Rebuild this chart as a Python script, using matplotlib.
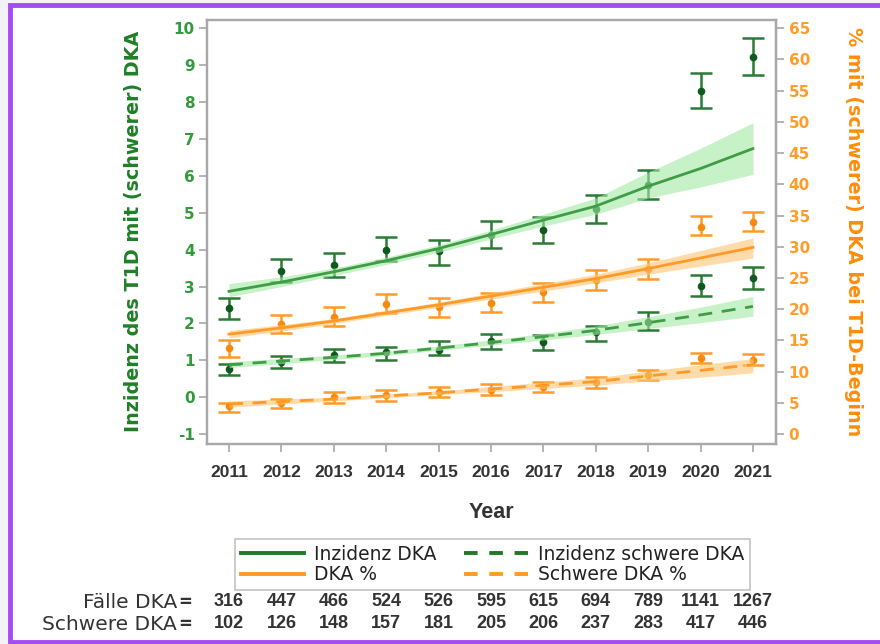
import matplotlib.pyplot as plt
from matplotlib.lines import Line2D
from matplotlib.patches import Rectangle
from matplotlib import transforms
import numpy as np

years = [2011, 2012, 2013, 2014, 2015, 2016, 2017, 2018, 2019, 2020, 2021]

# Inzidenz DKA (left axis)
inz_dka = [2.41, 3.43, 3.59, 3.98, 3.95, 4.41, 4.54, 5.11, 5.74, 8.29, 9.22]
inz_dka_lo = [2.12, 3.11, 3.26, 3.68, 3.59, 4.05, 4.18, 4.73, 5.36, 7.83, 8.73]
inz_dka_hi = [2.69, 3.75, 3.91, 4.35, 4.27, 4.77, 4.88, 5.49, 6.17, 8.78, 9.73]
inz_dka_fit = [2.87, 3.12, 3.40, 3.70, 4.03, 4.41, 4.80, 5.18, 5.72, 6.20, 6.74]
inz_dka_band_lo = [2.72, 3.00, 3.30, 3.60, 3.93, 4.29, 4.64, 4.96, 5.40, 5.70, 6.04]
inz_dka_band_hi = [3.08, 3.26, 3.50, 3.80, 4.13, 4.53, 4.96, 5.40, 6.10, 6.75, 7.44]

# Inzidenz schwere DKA (left axis)
inz_sdka = [0.76, 0.96, 1.15, 1.22, 1.29, 1.51, 1.49, 1.78, 2.05, 3.02, 3.23]
inz_sdka_lo = [0.60, 0.80, 0.94, 1.01, 1.15, 1.30, 1.29, 1.51, 1.83, 2.73, 2.94]
inz_sdka_hi = [0.89, 1.12, 1.31, 1.37, 1.51, 1.71, 1.68, 1.93, 2.30, 3.30, 3.53]
inz_sdka_fit = [0.88, 0.98, 1.08, 1.19, 1.33, 1.48, 1.64, 1.81, 2.02, 2.23, 2.46]
inz_sdka_band_lo = [0.80, 0.91, 1.02, 1.13, 1.27, 1.41, 1.55, 1.70, 1.86, 2.02, 2.19]
inz_sdka_band_hi = [0.96, 1.05, 1.14, 1.25, 1.39, 1.55, 1.73, 1.93, 2.18, 2.44, 2.73]

# DKA % (right axis)
dka_pct = [13.7, 17.7, 18.8, 20.9, 20.4, 21.0, 22.7, 24.7, 26.5, 33.2, 34.0]
dka_pct_lo = [12.4, 16.2, 17.3, 19.4, 18.7, 19.5, 21.1, 23.0, 24.9, 31.8, 32.6]
dka_pct_hi = [15.1, 19.0, 20.3, 22.5, 21.8, 22.6, 24.2, 26.2, 28.1, 35.0, 35.6]
dka_pct_fit = [16.0, 17.0, 18.1, 19.4, 20.7, 22.1, 23.5, 24.9, 26.5, 28.2, 29.9]
dka_pct_band_lo = [15.4, 16.5, 17.7, 19.0, 20.3, 21.6, 22.9, 24.2, 25.6, 26.9, 28.2]
dka_pct_band_hi = [16.6, 17.5, 18.5, 19.8, 21.1, 22.6, 24.1, 25.6, 27.4, 29.4, 31.4]

# Schwere DKA % (right axis)
sdka_pct = [4.5, 4.9, 6.0, 6.3, 6.8, 7.1, 7.6, 8.4, 9.5, 12.2, 11.9]
sdka_pct_lo = [3.6, 4.2, 5.0, 5.3, 5.9, 6.3, 6.7, 7.4, 8.6, 11.3, 11.0]
sdka_pct_hi = [5.0, 5.6, 6.8, 7.1, 7.6, 8.0, 8.4, 9.2, 10.3, 13.0, 12.8]
sdka_pct_fit = [4.8, 5.2, 5.6, 6.1, 6.6, 7.2, 7.8, 8.4, 9.3, 10.2, 11.1]
sdka_pct_band_lo = [4.3, 4.8, 5.3, 5.8, 6.3, 6.8, 7.3, 7.8, 8.5, 9.1, 9.8]
sdka_pct_band_hi = [5.3, 5.6, 5.9, 6.4, 6.9, 7.6, 8.3, 9.0, 10.1, 11.1, 12.1]

faelle_dka = [316, 447, 466, 524, 526, 595, 615, 694, 789, 1141, 1267]
schwere_dka = [102, 126, 148, 157, 181, 205, 206, 237, 283, 417, 446]

GREEN_BAR = "#2b7a35"
GREEN_PT = "#0d5a1c"
GREEN_LINE = "#3f9c47"
GREEN_BAND = "#a3e8a2"
GREEN_TXT = "#339a3c"
ORANGE = "#ff9a26"
ORANGE_PT = "#f58a10"
ORANGE_BAND = "#ffc470"
ORANGE_TXT = "#ff9c2a"
GRAY = "#a8a8a8"
NARROW = ["Liberation Sans Narrow", "Liberation Sans", "DejaVu Sans"]

fig = plt.figure(figsize=(8.8, 6.44), dpi=100)
fig.patch.set_facecolor("#f4f2f7")
# white page with purple frame
fig.patches.append(Rectangle((9.5 / 880, 2 / 644), 1.0, 637 / 644, transform=fig.transFigure,
                             facecolor="white", edgecolor="#a34cf2", linewidth=3.5, zorder=-5))

ax = fig.add_axes([207 / 880, 1 - 444 / 644, (776 - 207) / 880, (444 - 19.5) / 644])
ax2 = ax.twinx()

x = np.array(years)


def draw(a, y, lo, hi, fit, blo, bhi, barc, ptc, linec, bandc, dashed):
    y = np.array(y)
    yerr = [y - np.array(lo), np.array(hi) - y]
    a.errorbar(x, y, yerr=yerr, fmt="o", color=ptc, ecolor=barc, elinewidth=1.8,
               capsize=8, capthick=1.8, markersize=4.5, zorder=2)
    a.fill_between(x, blo, bhi, color=bandc, alpha=0.6, linewidth=0, zorder=3)
    ln, = a.plot(x, fit, color=linec, linewidth=2.0, zorder=4)
    if dashed:
        ln.set_dashes((5, 3.5))


draw(ax, inz_dka, inz_dka_lo, inz_dka_hi, inz_dka_fit, inz_dka_band_lo, inz_dka_band_hi,
     GREEN_BAR, GREEN_PT, GREEN_LINE, GREEN_BAND, False)
draw(ax, inz_sdka, inz_sdka_lo, inz_sdka_hi, inz_sdka_fit, inz_sdka_band_lo, inz_sdka_band_hi,
     GREEN_BAR, GREEN_PT, GREEN_LINE, GREEN_BAND, True)
draw(ax2, dka_pct, dka_pct_lo, dka_pct_hi, dka_pct_fit, dka_pct_band_lo, dka_pct_band_hi,
     ORANGE, ORANGE_PT, ORANGE, ORANGE_BAND, False)
draw(ax2, sdka_pct, sdka_pct_lo, sdka_pct_hi, sdka_pct_fit, sdka_pct_band_lo, sdka_pct_band_hi,
     ORANGE, ORANGE_PT, ORANGE, ORANGE_BAND, True)

ax.set_xlim(2010.58, 2021.44)
ax.set_ylim(-1.27, 10.24)
ax2.set_ylim(-1.6, 66.4)
ax.set_xticks(years)
ax.set_xticklabels([str(v) for v in years], family=NARROW, fontweight="bold",
                   fontsize=12.5, color="#333333")
ax.set_yticks(range(-1, 11))
ax.set_yticklabels([str(v) for v in range(-1, 11)], fontweight="bold", fontsize=11, color=GREEN_TXT)
ax2.set_yticks(range(0, 66, 5))
ax2.set_yticklabels([str(v) for v in range(0, 66, 5)], fontweight="bold", fontsize=11, color=ORANGE_TXT)

for a in (ax, ax2):
    for s in a.spines.values():
        s.set_color(GRAY)
        s.set_linewidth(1.6)
    a.tick_params(direction="out", length=6, width=1.2, color=GRAY, pad=3)
ax.tick_params(axis="x", pad=9)

ax.set_xlabel("Year", family=NARROW, fontweight="bold", fontsize=15.5, color="#333333", labelpad=16)
ax.set_ylabel("Inzidenz des T1D mit (schwerer) DKA", fontweight="bold", fontsize=13.8,
              color="#1f7f26", labelpad=22)
ax2.set_ylabel("% mit (schwerer) DKA bei T1D-Beginn", fontweight="bold", fontsize=13.8,
               color="#ff8c0a", rotation=-90, labelpad=38)

handles = [
    Line2D([], [], color="#1f7a28", linewidth=2.8),
    Line2D([], [], color=ORANGE, linewidth=2.8),
    Line2D([], [], color="#1f7a28", linewidth=2.8, dashes=(3.5, 3)),
    Line2D([], [], color=ORANGE, linewidth=2.8, dashes=(3.5, 3)),
]
labels = ["Inzidenz DKA", "DKA %", "Inzidenz schwere DKA", "Schwere DKA %"]
leg = fig.legend(handles, labels, ncol=2, loc="upper left", bbox_to_anchor=(235 / 880, 1 - 539 / 644),
                 bbox_transform=fig.transFigure, frameon=True, fancybox=False, fontsize=13.5,
                 handlelength=3.4, handletextpad=0.5, columnspacing=1.5, labelspacing=0.1,
                 borderpad=0.3, borderaxespad=0)
leg.get_frame().set_edgecolor("#b5b5b5")
leg.get_frame().set_linewidth(1.2)
for t in leg.get_texts():
    t.set_color("#222222")

# case counts under the axis
row_y = [1 - 602 / 644, 1 - 624 / 644]
row_names = ["Fälle DKA", "Schwere DKA"]
row_vals = [faelle_dka, schwere_dka]
blend = transforms.blended_transform_factory(ax.transData, fig.transFigure)
for ry, name, vals in zip(row_y, row_names, row_vals):
    fig.text(177 / 880, ry, name, ha="right", va="center", fontsize=14.5, color="#333333")
    fig.text(178 / 880, ry, "=", ha="left", va="center", fontsize=12, fontweight="bold", color="#333333")
    for yr, v in zip(years, vals):
        ax.text(yr, ry, str(v), transform=blend, ha="center", va="center", family=NARROW,
                fontweight="bold", fontsize=13, color="#333333", clip_on=False)

fig.savefig("out.png", dpi=100)
